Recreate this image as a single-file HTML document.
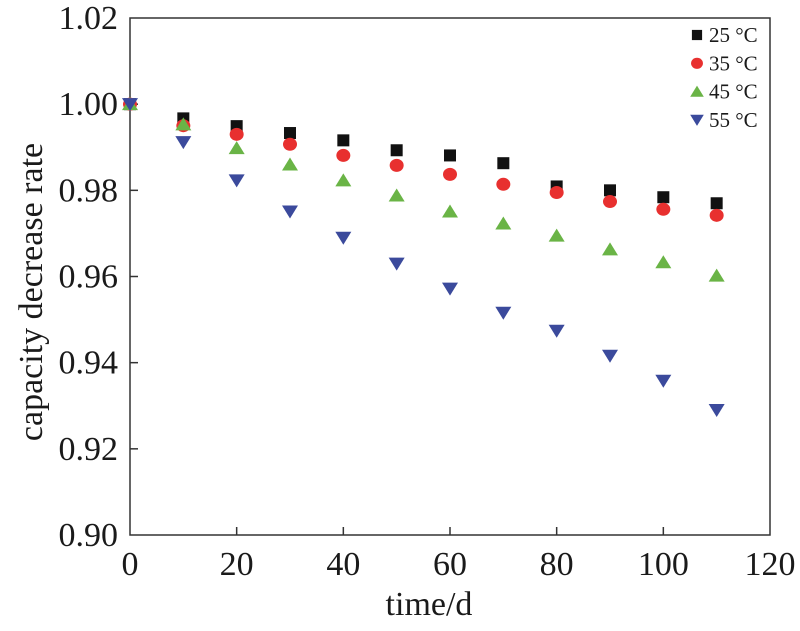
<!DOCTYPE html>
<html><head><meta charset="utf-8"><style>
body{margin:0;background:#fff}
svg text{font-family:"Liberation Serif",serif;fill:#1a1a1a}
</style></head><body>
<svg id="chart" width="800" height="626" xmlns="http://www.w3.org/2000/svg">
<rect x="130" y="18" width="640" height="517" fill="none" stroke="#333" stroke-width="1.5"/>
<g id="axes"></g><g id="marks"></g><g id="legend"></g>
<text x="429" y="615" font-size="34" text-anchor="middle">time/d</text>
<text transform="translate(42,292) rotate(-90)" font-size="34" text-anchor="middle">capacity decrease rate</text>
</svg>
<script>
const days=[0,10,20,30,40,50,60,70,80,90,100,110];
const s25=[1.0,0.9967,0.9949,0.9933,0.9916,0.9893,0.9881,0.9863,0.9809,0.9800,0.9784,0.9770];
const s35=[1.0,0.9950,0.9930,0.9907,0.9881,0.9858,0.9837,0.9814,0.9795,0.9774,0.9756,0.9742];
const s45=[1.0,0.9953,0.9898,0.9860,0.9823,0.9788,0.9751,0.9723,0.9695,0.9663,0.9633,0.9602];
const s55=[1.0,0.9912,0.9823,0.9751,0.9690,0.9630,0.9572,0.9516,0.9474,0.9416,0.9358,0.9290];
const xTicks=[0,20,40,60,80,100,120];
const yTicks=[0.90,0.92,0.94,0.96,0.98,1.00,1.02];
const labels=["25 °C","35 °C","45 °C","55 °C"];
const NS="http://www.w3.org/2000/svg";
const X=v=>130+v/120*640, Y=v=>535-(v-0.90)/0.12*517;
function mk(tag,at){const e=document.createElementNS(NS,tag);for(const k in at)e.setAttribute(k,at[k]);return e;}
const axes=document.getElementById('axes');
xTicks.forEach(t=>{
  if(t>0&&t<120){const l=mk('line',{x1:X(t),x2:X(t),y1:535,y2:527,stroke:'#333','stroke-width':1.5});
  
  axes.appendChild(l);}
  const tx=mk('text',{x:X(t),y:575,'font-size':34,'text-anchor':'middle'});tx.textContent=t;
  
  axes.appendChild(tx);
});
yTicks.forEach(t=>{
  if(t>0.90&&t<1.02){const l=mk('line',{x1:130,x2:138,y1:Y(t),y2:Y(t),stroke:'#333','stroke-width':1.5});
  
  axes.appendChild(l);}
  const tx=mk('text',{x:118,y:Y(t)+11,'font-size':34,'text-anchor':'end'});tx.textContent=t.toFixed(2);
  
  axes.appendChild(tx);
});
function marker(kind,x,y,s){
  let e;
  if(kind==0)e=mk('rect',{x:x-6*s,y:y-6*s,width:12*s,height:12*s,fill:'#111'});
  else if(kind==1)e=mk('ellipse',{cx:x,cy:y,rx:7*s,ry:6.5*s,fill:'#e8302f'});
  else if(kind==2)e=mk('polygon',{points:`${x-8*s},${y+6*s} ${x+8*s},${y+6*s} ${x},${y-7*s}`,fill:'#6ab446'});
  else e=mk('polygon',{points:`${x-8*s},${y-6*s} ${x+8*s},${y-6*s} ${x},${y+7*s}`,fill:'#3b4a9c'});
  return e;
}
const marks=document.getElementById('marks');
[s25,s35,s45,s55].forEach((s,k)=>{
  s.forEach((v,i)=>{const e=marker(k,X(days[i]),Y(v),1);
    
    marks.appendChild(e);});
});
const lg=document.getElementById('legend');
labels.forEach((t,k)=>{
  const y=35+k*28.3;
  const m=marker(k,697,y,0.85);
  
  lg.appendChild(m);
  const tx=mk('text',{x:709,y:y+7,'font-size':21});tx.textContent=t;
  
  lg.appendChild(tx);
});
</script>
</body></html>
